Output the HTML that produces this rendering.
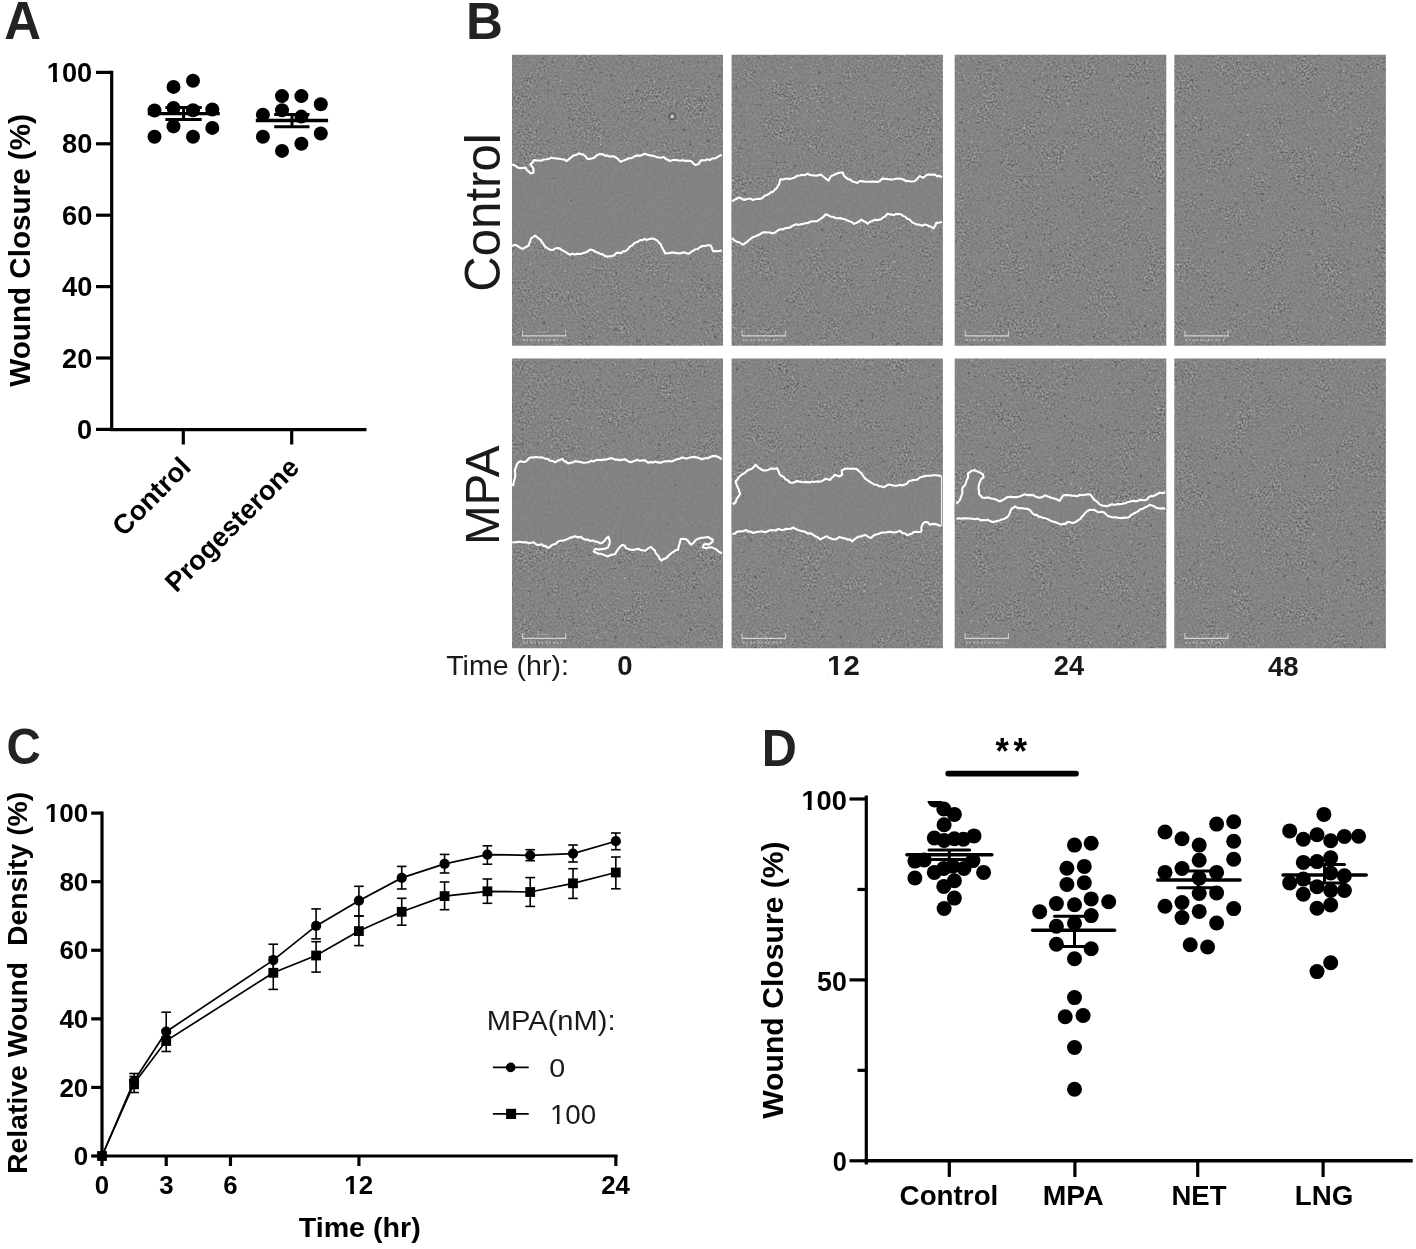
<!DOCTYPE html>
<html><head><meta charset="utf-8"><title>Figure</title>
<style>
html,body{margin:0;padding:0;background:#fff;}
body{width:1416px;height:1249px;overflow:hidden;}
svg{display:block;will-change:transform;font-family:"Liberation Sans", sans-serif;}
</style></head><body>
<svg width="1416" height="1249" viewBox="0 0 1416 1249">
<defs>
<filter id="tex" x="0" y="0" width="100%" height="100%" color-interpolation-filters="sRGB">
<feTurbulence type="fractalNoise" baseFrequency="0.5" numOctaves="3" seed="7" result="n1"/>
<feColorMatrix in="n1" type="matrix" values="0.18 0 0 0 0.426  0.18 0 0 0 0.426  0.18 0 0 0 0.426  0 0 0 0 1" result="lo"/>
<feColorMatrix in="n1" type="matrix" values="0.55 0 0 0 0.238  0.55 0 0 0 0.238  0.55 0 0 0 0.238  0 0 0 0 1" result="hirgb"/>
<feTurbulence type="fractalNoise" baseFrequency="0.035" numOctaves="2" seed="5" result="m"/>
<feColorMatrix in="m" type="matrix" values="0 0 0 0 0  0 0 0 0 0  0 0 0 0 0  3 0 0 0 -1.35" result="mask"/>
<feComposite in="hirgb" in2="mask" operator="in" result="hi"/>
<feTurbulence type="fractalNoise" baseFrequency="0.28" numOctaves="2" seed="11" result="n2"/>
<feColorMatrix in="n2" type="matrix" values="0 0 0 0 0.36  0 0 0 0 0.36  0 0 0 0 0.36  7 0 0 0 -4.85" result="spk"/>
<feTurbulence type="fractalNoise" baseFrequency="0.3" numOctaves="2" seed="23" result="n3"/>
<feColorMatrix in="n3" type="matrix" values="0 0 0 0 0.72  0 0 0 0 0.72  0 0 0 0 0.72  6 0 0 0 -4.4" result="lt"/>
<feMerge><feMergeNode in="lo"/><feMergeNode in="hi"/><feMergeNode in="spk"/><feMergeNode in="lt"/></feMerge>
</filter>
<filter id="smooth" x="0" y="0" width="100%" height="100%" color-interpolation-filters="sRGB">
<feTurbulence type="fractalNoise" baseFrequency="0.35" numOctaves="1" seed="3" result="a"/>
<feColorMatrix in="a" type="matrix" values="0.07 0 0 0 0.478  0.07 0 0 0 0.478  0.07 0 0 0 0.478  0 0 0 0 1" result="b"/>
<feTurbulence type="fractalNoise" baseFrequency="0.4" numOctaves="2" seed="31" result="c"/>
<feColorMatrix in="c" type="matrix" values="0 0 0 0 0.3  0 0 0 0 0.3  0 0 0 0 0.3  10 0 0 0 -7.9" result="d"/>
<feMerge><feMergeNode in="b"/><feMergeNode in="d"/></feMerge>
</filter>
<clipPath id="clip00"><rect x="512" y="54.7" width="211" height="291"/></clipPath>
<clipPath id="w00"><polygon points="510.0,164.6 512.2,164.6 515.1,165.5 517.5,167.4 520.6,168.3 523.4,167.7 525.6,167.9 527.0,170.2 528.4,171.3 530.6,173.4 533.4,172.7 533.5,169.5 533.1,168.1 530.3,164.1 532.8,162.4 534.0,160.1 537.1,160.5 539.4,160.5 541.6,160.6 543.8,159.5 546.6,159.2 549.0,158.8 551.3,157.6 553.5,158.2 556.0,158.4 558.7,158.7 561.8,159.3 564.2,159.5 566.8,161.0 569.2,159.0 570.9,157.7 573.0,155.7 576.6,154.7 578.9,153.3 581.6,154.5 583.4,154.4 585.3,156.2 587.1,158.6 589.6,159.1 591.7,158.4 594.4,157.7 595.9,156.0 598.3,154.6 600.4,154.1 602.6,154.3 605.6,155.9 607.1,155.4 609.5,156.5 612.5,156.4 614.3,156.5 617.2,158.3 619.3,160.4 620.6,161.8 623.8,160.4 626.1,159.5 628.6,158.2 631.6,158.2 634.6,156.3 636.9,155.4 639.9,155.9 642.0,155.0 644.9,153.8 648.3,155.0 651.4,155.6 653.9,155.9 657.1,157.3 661.1,157.7 663.7,157.1 666.4,159.4 667.8,159.7 669.9,161.0 673.7,159.7 676.6,159.9 679.6,160.8 682.9,160.2 685.7,161.1 688.0,160.6 691.4,161.2 693.2,163.2 695.3,165.0 698.7,164.0 700.2,161.4 701.7,160.1 704.4,160.5 707.7,159.2 709.8,160.1 711.9,158.5 714.6,158.4 716.3,157.9 719.4,155.8 721.9,155.1 725.0,155.1 725.0,250.4 721.9,250.4 718.0,251.3 715.8,251.0 712.8,251.1 712.0,248.1 710.4,245.2 707.7,245.3 705.1,246.0 702.2,246.0 700.3,247.0 697.7,249.0 695.3,249.2 693.8,250.4 691.4,251.7 689.1,253.6 687.3,253.6 684.8,252.4 682.5,252.6 680.1,253.4 677.0,253.2 674.1,252.6 672.1,252.6 669.0,253.1 665.2,253.5 664.1,250.9 663.1,249.2 661.3,245.9 660.6,243.9 659.1,242.8 657.4,240.7 654.1,238.8 651.5,238.6 649.3,239.0 646.4,239.9 644.5,238.9 642.5,240.1 640.2,240.1 637.6,241.9 636.0,242.3 634.4,243.2 632.1,245.5 630.7,246.1 629.1,247.6 627.2,249.8 625.4,251.3 623.1,251.3 621.1,253.1 618.9,252.7 616.4,252.9 614.0,255.4 611.8,256.0 609.0,256.3 607.4,256.6 604.7,255.9 602.5,254.0 601.3,254.4 598.4,252.8 595.9,252.1 593.6,250.4 590.6,249.5 588.3,250.9 586.4,252.2 584.1,252.6 582.0,253.6 580.0,254.0 577.1,253.8 575.0,254.5 572.2,253.7 569.8,254.8 567.4,253.2 564.2,251.4 561.8,250.0 559.5,248.2 556.3,248.1 554.3,249.2 552.3,250.0 549.5,249.5 547.2,248.2 545.1,246.7 543.0,243.4 541.8,241.8 540.8,239.9 539.6,239.2 537.6,237.8 535.2,235.5 531.2,238.3 530.2,241.0 529.6,242.7 528.6,245.6 527.0,246.5 524.5,247.9 522.9,248.7 520.6,248.1 518.2,246.3 515.8,244.8 512.2,245.7 510.0,245.7"/></clipPath>
<clipPath id="clip01"><rect x="731.6" y="54.7" width="211.3" height="291"/></clipPath>
<clipPath id="w01"><polygon points="729.6,201.3 732.2,201.3 734.4,199.9 736.7,198.7 738.9,197.5 741.2,198.4 743.2,199.6 744.7,199.9 747.0,199.1 748.7,198.7 751.0,198.8 752.6,199.9 754.9,199.3 756.8,199.0 759.8,198.9 761.9,198.3 763.3,197.1 764.9,195.6 767.2,194.9 769.3,193.6 771.0,192.1 772.9,191.9 775.1,189.4 776.3,188.6 777.8,186.2 778.9,184.6 779.8,181.6 780.3,179.1 783.0,179.5 786.2,178.5 788.5,178.9 791.5,178.6 794.9,177.4 797.4,175.7 799.9,175.5 802.0,174.7 804.7,175.3 807.6,173.6 810.1,175.1 812.9,175.3 815.7,175.8 818.0,175.4 820.7,174.5 822.9,176.3 825.4,178.3 828.6,180.7 829.9,177.8 831.2,176.1 833.8,175.1 835.8,174.0 837.4,173.2 840.0,172.8 842.6,172.2 843.9,175.8 846.0,177.6 847.8,179.1 849.9,179.4 852.1,181.3 854.6,181.9 857.2,183.0 860.0,181.0 863.1,181.4 866.2,181.8 868.5,181.7 871.2,181.6 874.1,181.6 877.5,181.9 879.8,181.1 882.2,178.6 885.5,178.9 888.8,179.2 891.2,179.6 893.5,179.3 896.3,178.7 898.6,178.7 901.1,178.8 903.7,179.7 905.9,181.2 907.5,180.8 910.5,181.5 914.5,181.2 915.8,180.3 917.4,178.7 919.3,176.2 920.8,176.6 923.3,177.7 926.1,175.3 928.6,174.4 931.3,174.7 935.0,174.5 937.4,176.5 939.2,175.8 941.9,177.2 944.9,177.2 944.9,222.0 941.9,222.0 938.7,222.7 936.3,222.9 935.2,225.8 933.3,228.3 930.9,226.5 929.2,226.2 926.5,224.9 924.7,224.5 922.2,225.8 919.3,224.6 916.9,224.5 914.4,223.4 911.9,222.1 909.5,219.5 907.1,218.7 905.4,216.9 902.9,215.9 901.1,214.2 898.9,214.1 895.8,214.1 893.7,215.0 890.4,214.4 887.5,213.7 884.9,216.4 882.9,217.7 881.0,219.2 877.8,220.1 874.8,219.8 872.3,221.1 869.7,222.0 867.6,223.8 866.2,222.4 864.2,221.4 861.4,219.7 859.0,221.5 856.7,222.8 854.0,223.9 851.5,222.0 849.4,221.3 846.9,220.2 844.4,219.1 842.3,218.7 840.0,218.0 838.3,218.2 835.4,218.0 832.8,216.8 830.7,216.8 828.0,215.0 825.7,214.3 824.1,216.1 822.2,217.7 819.6,219.5 817.2,221.1 814.2,221.3 810.4,221.6 808.4,222.9 806.2,223.1 803.6,223.8 800.9,224.2 798.2,224.9 796.2,224.2 793.2,225.4 790.7,227.0 788.9,227.9 785.8,228.0 783.2,229.3 781.0,229.2 778.3,230.1 775.1,232.5 772.6,233.4 770.1,232.5 767.2,232.5 764.9,232.2 762.5,232.5 760.1,234.2 757.2,235.5 755.5,236.4 753.1,237.1 750.9,238.6 749.1,240.0 746.6,242.3 745.4,243.0 742.9,244.6 741.1,243.6 738.7,242.0 736.5,241.7 734.0,240.1 732.2,237.9 729.6,237.9"/></clipPath>
<clipPath id="clip02"><rect x="954.7" y="54.7" width="211.6" height="291"/></clipPath>
<clipPath id="clip03"><rect x="1174.3" y="54.7" width="211.6" height="291"/></clipPath>
<clipPath id="clip10"><rect x="512" y="358.5" width="211" height="289.7"/></clipPath>
<clipPath id="w10"><polygon points="510.0,486.1 512.9,486.1 513.6,482.5 514.2,480.4 515.0,477.6 515.3,476.0 515.2,472.7 514.8,471.2 515.3,468.8 516.5,465.7 517.0,464.0 518.9,462.0 520.8,461.2 523.4,462.0 525.5,461.7 527.1,460.5 529.1,458.3 531.6,457.2 534.2,457.4 536.5,457.0 539.2,457.5 541.0,457.4 542.9,457.6 545.5,458.7 547.6,458.7 549.5,460.5 552.6,461.0 555.5,462.2 558.1,460.4 559.8,460.2 562.3,458.8 564.5,461.4 565.9,461.6 568.1,463.5 570.3,462.8 572.3,462.6 575.4,461.1 577.3,461.5 580.1,461.9 582.4,462.6 584.3,462.7 586.8,462.5 589.2,461.9 591.4,460.8 594.1,461.4 596.4,459.9 598.8,460.0 601.2,460.1 603.5,459.6 606.4,459.6 609.9,458.4 612.5,458.3 614.9,459.6 617.3,459.4 619.6,460.3 623.0,459.6 625.4,459.4 628.2,461.4 630.9,462.2 632.7,461.5 635.0,460.8 637.0,459.8 639.5,460.9 642.0,460.3 645.0,460.4 648.3,462.8 650.3,462.0 653.0,462.6 655.5,461.6 657.2,462.4 661.1,462.6 664.1,461.4 665.9,461.5 669.0,461.0 671.2,461.5 673.0,461.1 675.4,459.7 677.4,459.1 679.9,458.7 681.9,457.5 684.9,458.2 686.7,458.5 689.0,457.7 692.3,456.9 695.2,457.1 698.2,457.7 699.6,458.2 701.9,459.2 705.3,458.3 708.2,458.3 710.2,457.0 712.6,456.1 714.8,456.0 717.6,456.6 720.0,458.2 721.9,459.1 725.0,459.1 725.0,553.6 721.9,553.6 720.3,552.4 718.1,551.3 716.3,549.4 714.2,548.4 711.7,547.4 708.6,547.5 706.1,548.2 702.7,547.3 703.8,544.6 705.8,544.0 708.8,544.6 712.5,541.8 712.7,539.5 710.7,538.7 708.5,537.1 705.9,537.3 703.3,537.8 701.1,537.8 698.4,538.7 695.8,539.9 693.5,542.8 691.1,544.6 689.2,542.7 687.6,540.3 686.2,539.4 684.1,539.0 681.0,538.9 680.1,541.1 679.6,543.7 678.6,546.5 678.1,549.9 675.7,550.2 673.3,552.0 671.3,553.2 669.4,554.8 667.2,557.2 665.4,558.6 663.5,558.8 661.6,560.7 660.0,559.5 658.9,556.9 657.0,554.5 655.6,553.0 654.7,550.3 653.0,549.1 651.2,547.1 649.6,547.6 647.2,549.2 645.5,550.8 643.6,550.5 640.5,550.0 638.7,548.9 636.1,549.3 633.4,549.9 630.2,549.8 628.3,548.9 626.1,548.3 624.7,545.8 622.4,544.7 619.9,546.9 617.4,550.2 615.9,552.6 615.0,554.2 611.2,554.8 607.9,556.4 605.3,555.6 603.3,554.6 600.4,553.7 598.4,553.8 596.4,552.8 593.7,551.5 595.4,548.7 598.8,549.6 601.6,549.1 605.5,548.6 608.2,547.2 609.5,543.8 609.9,541.6 609.0,538.9 608.5,536.7 606.3,538.4 604.1,541.3 601.6,543.2 599.5,543.1 597.5,541.7 595.3,541.6 592.8,540.5 590.6,541.0 587.4,539.5 585.6,539.8 583.0,538.8 580.9,536.9 578.4,537.4 575.1,536.3 572.8,537.1 570.2,537.6 568.4,538.6 566.9,539.3 564.5,540.2 562.6,540.7 560.5,540.6 557.8,541.7 556.1,543.7 554.2,544.3 552.2,544.9 549.9,546.9 547.9,548.0 545.5,545.9 543.5,546.0 541.8,544.3 539.1,545.0 536.9,544.6 535.3,543.9 533.7,542.2 531.4,542.7 529.0,543.2 526.3,542.2 523.3,542.4 520.9,542.0 518.3,541.8 516.7,542.3 514.1,542.3 512.2,542.5 510.0,542.5"/></clipPath>
<clipPath id="clip11"><rect x="731.6" y="358.5" width="211.3" height="289.7"/></clipPath>
<clipPath id="w11"><polygon points="729.6,504.4 732.9,504.4 735.7,502.1 736.6,499.0 738.7,496.1 740.2,494.0 739.2,491.6 738.7,489.2 737.6,487.3 736.7,484.9 735.5,481.4 737.2,479.9 738.9,477.0 741.0,475.2 743.1,473.9 744.8,472.9 747.0,470.8 749.6,469.6 751.9,468.7 753.4,467.4 755.6,464.7 758.2,467.4 759.6,468.3 761.5,469.5 762.8,470.3 765.4,470.6 768.0,469.9 770.7,468.6 773.0,468.6 775.1,468.8 777.3,468.3 778.5,471.1 779.5,474.2 781.3,475.8 783.9,477.1 785.6,479.4 788.1,480.5 789.8,482.5 793.4,482.7 796.6,481.1 799.4,481.6 802.0,482.0 804.4,482.3 806.9,482.0 809.3,482.4 811.7,481.5 813.6,482.0 816.5,481.5 818.9,481.6 821.8,481.2 823.5,480.2 825.5,478.7 830.2,479.9 831.5,478.0 833.1,476.8 835.0,474.6 837.3,475.8 839.3,476.5 842.3,474.6 841.8,473.3 841.7,470.5 844.6,468.9 847.1,468.5 849.7,468.7 851.8,468.6 854.3,468.7 856.7,469.1 858.7,470.9 859.7,471.8 861.8,473.8 863.5,476.4 865.2,478.7 867.1,480.0 869.3,481.4 872.4,483.4 874.3,484.6 877.2,484.8 879.0,486.1 881.8,486.5 884.2,487.2 886.5,485.7 888.8,484.4 891.7,485.1 894.7,485.7 897.8,485.7 899.6,484.7 901.8,485.4 904.2,484.9 907.2,483.5 908.9,481.1 912.0,480.4 914.0,480.0 917.0,479.7 919.7,477.6 922.0,476.7 924.9,476.1 927.3,475.8 930.2,475.7 933.2,475.2 936.6,475.2 939.0,475.6 941.1,476.2 944.9,476.2 944.9,525.8 941.1,525.8 938.9,525.5 936.4,524.1 933.0,523.9 929.6,524.6 927.9,522.3 924.9,522.0 923.0,523.3 922.1,525.5 921.3,527.6 921.5,530.5 920.9,531.8 917.6,532.1 914.0,531.8 911.9,533.6 909.7,534.3 907.4,535.3 905.1,533.5 902.5,533.1 900.0,530.7 896.6,532.1 893.4,532.5 891.2,531.9 888.5,531.9 885.8,532.5 882.5,532.5 880.5,533.0 877.4,534.2 875.7,534.5 873.4,535.7 871.2,538.0 868.7,537.3 866.5,535.5 864.8,535.0 861.3,536.2 858.6,536.6 856.3,538.0 854.0,539.7 852.2,541.4 849.9,539.4 848.1,539.7 846.0,538.7 842.9,537.9 839.2,537.0 836.4,539.2 833.0,539.3 831.4,538.6 828.8,537.7 827.1,536.3 824.7,537.1 822.2,538.4 820.3,539.5 817.7,537.2 815.1,536.2 813.6,535.1 810.8,533.2 807.6,533.4 804.3,531.5 801.7,531.1 799.9,530.6 797.9,529.9 795.1,528.6 793.3,527.5 790.6,528.8 788.9,529.0 785.9,528.7 783.9,529.7 781.5,530.0 778.4,528.9 775.6,530.5 772.8,530.3 770.4,530.1 767.7,531.3 764.7,532.3 761.9,531.3 759.1,531.7 756.6,531.9 753.2,533.0 751.3,531.9 748.1,531.4 745.9,530.0 742.9,531.4 739.2,531.4 736.9,531.8 734.9,533.7 732.2,533.8 729.6,533.8"/></clipPath>
<clipPath id="clip12"><rect x="954.7" y="358.5" width="211.6" height="289.7"/></clipPath>
<clipPath id="w12"><polygon points="952.7,503.6 956.4,503.6 957.8,502.4 959.6,500.4 960.6,498.2 961.7,495.0 962.4,493.0 962.3,490.4 962.5,487.3 964.3,486.0 965.7,483.5 966.7,480.0 967.8,478.1 968.2,475.7 967.9,473.6 971.8,470.7 974.5,470.3 977.8,471.6 980.5,472.9 983.0,474.4 983.6,477.4 981.4,478.9 979.9,481.8 979.0,484.6 978.5,488.1 979.0,491.0 979.0,493.7 982.2,497.5 985.0,498.0 988.4,497.4 991.2,498.5 993.4,498.8 995.9,499.4 999.5,501.4 1001.4,500.7 1004.0,499.4 1006.8,497.4 1010.1,496.7 1013.4,497.1 1016.6,497.1 1019.7,496.4 1021.8,495.6 1024.7,494.3 1027.2,495.1 1030.0,494.9 1033.0,495.1 1036.0,496.7 1039.1,497.7 1042.2,497.1 1044.9,495.3 1048.6,496.8 1051.8,497.9 1054.3,498.6 1057.0,499.4 1059.5,500.8 1061.2,498.5 1063.0,495.6 1065.6,495.0 1069.1,495.3 1071.6,495.6 1074.3,495.8 1077.3,496.2 1080.2,494.8 1082.3,495.2 1084.9,494.8 1087.6,494.4 1090.3,494.5 1092.5,497.4 1094.4,500.1 1095.9,500.9 1097.9,502.5 1099.6,504.4 1102.2,505.5 1104.8,506.0 1107.7,506.1 1110.1,505.0 1112.0,504.2 1114.7,505.0 1117.5,503.9 1120.1,504.1 1122.6,503.7 1125.5,503.1 1127.9,502.1 1130.4,501.4 1132.8,500.7 1135.1,501.3 1137.3,501.1 1140.3,499.8 1143.2,500.2 1145.7,500.1 1147.4,499.2 1148.4,497.2 1151.0,496.1 1153.1,496.2 1155.5,495.0 1157.7,493.8 1159.6,492.6 1162.2,493.2 1165.3,492.4 1168.3,492.4 1168.3,509.1 1165.3,509.1 1163.3,508.1 1160.5,508.6 1158.6,508.3 1156.8,508.2 1154.2,506.3 1152.2,505.6 1149.9,504.6 1147.2,506.5 1145.2,507.3 1142.6,508.9 1140.4,509.2 1138.3,511.1 1135.6,512.7 1133.8,513.5 1131.3,515.0 1129.5,516.6 1127.6,517.8 1124.8,517.5 1122.0,518.1 1119.1,518.0 1116.4,517.2 1114.6,517.4 1111.9,517.2 1108.8,516.3 1106.9,515.4 1104.5,512.6 1101.3,511.8 1098.8,512.4 1096.3,511.2 1094.4,509.9 1091.8,510.0 1089.6,509.8 1087.8,510.7 1085.0,513.0 1083.5,515.3 1082.1,516.3 1080.5,518.9 1077.8,520.4 1076.1,521.8 1073.7,522.9 1070.9,522.6 1067.8,521.8 1065.5,523.9 1063.3,523.7 1061.2,524.6 1058.8,523.6 1055.7,522.3 1053.7,521.8 1051.1,520.9 1048.2,519.4 1045.1,518.1 1043.6,518.3 1040.9,516.8 1038.7,516.6 1036.7,514.9 1034.5,514.9 1032.4,513.2 1030.3,510.4 1028.0,508.9 1024.9,508.8 1021.4,508.1 1018.0,508.2 1015.2,506.5 1011.8,508.6 1010.5,510.7 1009.8,513.2 1008.0,516.4 1005.5,518.3 1003.2,519.2 1000.9,519.7 999.7,520.5 996.6,521.1 994.0,522.1 991.0,521.6 988.2,519.8 985.6,520.3 983.1,520.1 980.2,520.2 977.7,518.5 975.2,519.3 972.7,518.8 969.0,518.5 965.7,518.3 963.5,518.4 961.0,518.8 959.0,518.2 956.4,518.7 952.7,518.7"/></clipPath>
<clipPath id="clip13"><rect x="1174.3" y="358.5" width="211.6" height="289.7"/></clipPath>
<clipPath id="clipD"><rect x="860" y="801" width="560" height="400"/></clipPath>
</defs>
<rect width="1416" height="1249" fill="#fff"/>
<text x="4.33" y="39.2" font-size="52.8" font-weight="bold" fill="#232323" textLength="36.76" lengthAdjust="spacingAndGlyphs">A</text>
<line x1="111.7" y1="70.8" x2="111.7" y2="431" stroke="#000" stroke-width="3.2" stroke-linecap="butt"/>
<line x1="110.1" y1="429.7" x2="366.5" y2="429.7" stroke="#000" stroke-width="3.2" stroke-linecap="butt"/>
<line x1="96" y1="429.4" x2="111.7" y2="429.4" stroke="#000" stroke-width="3.2" stroke-linecap="butt"/>
<text x="77.09" y="438.95" font-size="27.2" font-weight="bold" fill="#000" textLength="15.13" lengthAdjust="spacingAndGlyphs">0</text>
<line x1="96" y1="358" x2="111.7" y2="358" stroke="#000" stroke-width="3.2" stroke-linecap="butt"/>
<text x="62" y="367.55" font-size="27.2" font-weight="bold" fill="#000" textLength="30.26" lengthAdjust="spacingAndGlyphs">20</text>
<line x1="96" y1="286.6" x2="111.7" y2="286.6" stroke="#000" stroke-width="3.2" stroke-linecap="butt"/>
<text x="62" y="296.15" font-size="27.2" font-weight="bold" fill="#000" textLength="30.26" lengthAdjust="spacingAndGlyphs">40</text>
<line x1="96" y1="215.2" x2="111.7" y2="215.2" stroke="#000" stroke-width="3.2" stroke-linecap="butt"/>
<text x="62" y="224.75" font-size="27.2" font-weight="bold" fill="#000" textLength="30.26" lengthAdjust="spacingAndGlyphs">60</text>
<line x1="96" y1="143.8" x2="111.7" y2="143.8" stroke="#000" stroke-width="3.2" stroke-linecap="butt"/>
<text x="62" y="153.35" font-size="27.2" font-weight="bold" fill="#000" textLength="30.26" lengthAdjust="spacingAndGlyphs">80</text>
<line x1="96" y1="72.4" x2="111.7" y2="72.4" stroke="#000" stroke-width="3.2" stroke-linecap="butt"/>
<text x="46.83" y="81.95" font-size="27.2" font-weight="bold" fill="#000" textLength="45.38" lengthAdjust="spacingAndGlyphs">100</text><rect x="48.06" y="78.28" width="5" height="4.76" fill="#fff"/><rect x="57.03" y="78.28" width="4.49" height="4.76" fill="#fff"/>
<line x1="183.3" y1="429.5" x2="183.3" y2="444.5" stroke="#000" stroke-width="3.2" stroke-linecap="butt"/>
<line x1="291.7" y1="429.5" x2="291.7" y2="444.5" stroke="#000" stroke-width="3.2" stroke-linecap="butt"/>
<text transform="translate(192.3,468.6) rotate(-45)" text-anchor="end" font-size="27.4" font-weight="bold">Control</text>
<text transform="translate(300.8,469.1) rotate(-45)" text-anchor="end" font-size="27.3" font-weight="bold">Progesterone</text>
<text transform="translate(29.59,386.67) rotate(-90)" x="0" y="0" font-size="29.92" font-weight="bold" fill="#000" textLength="272.58" lengthAdjust="spacingAndGlyphs">Wound Closure (%)</text>
<circle cx="173.5" cy="86.9" r="7" fill="#000"/>
<circle cx="193" cy="80.8" r="7" fill="#000"/>
<circle cx="154.5" cy="110.5" r="7" fill="#000"/>
<circle cx="173.5" cy="108" r="7" fill="#000"/>
<circle cx="193" cy="110.2" r="7" fill="#000"/>
<circle cx="212.3" cy="109.5" r="7" fill="#000"/>
<circle cx="173.5" cy="126.4" r="7" fill="#000"/>
<circle cx="212.3" cy="127.9" r="7" fill="#000"/>
<circle cx="154.5" cy="136.8" r="7" fill="#000"/>
<circle cx="193" cy="136.8" r="7" fill="#000"/>
<circle cx="282" cy="96.1" r="7" fill="#000"/>
<circle cx="301.4" cy="96.1" r="7" fill="#000"/>
<circle cx="320.8" cy="104.3" r="7" fill="#000"/>
<circle cx="262.9" cy="114.7" r="7" fill="#000"/>
<circle cx="282" cy="110.2" r="7" fill="#000"/>
<circle cx="301.4" cy="116.6" r="7" fill="#000"/>
<circle cx="262.9" cy="136.8" r="7" fill="#000"/>
<circle cx="320.8" cy="133.5" r="7" fill="#000"/>
<circle cx="301.4" cy="143.8" r="7" fill="#000"/>
<circle cx="282" cy="150.9" r="7" fill="#000"/>
<line x1="147.8" y1="113.7" x2="219.8" y2="113.7" stroke="#000" stroke-width="3.3" stroke-linecap="butt"/><line x1="165.4" y1="107.4" x2="201.7" y2="107.4" stroke="#000" stroke-width="3" stroke-linecap="butt"/><line x1="165.4" y1="119.4" x2="201.7" y2="119.4" stroke="#000" stroke-width="3" stroke-linecap="butt"/><line x1="183.6" y1="107.4" x2="183.6" y2="119.4" stroke="#000" stroke-width="3" stroke-linecap="butt"/>
<line x1="255.8" y1="120.5" x2="328.1" y2="120.5" stroke="#000" stroke-width="3.3" stroke-linecap="butt"/><line x1="274.2" y1="114.4" x2="309.5" y2="114.4" stroke="#000" stroke-width="3" stroke-linecap="butt"/><line x1="274.2" y1="126.7" x2="309.5" y2="126.7" stroke="#000" stroke-width="3" stroke-linecap="butt"/><line x1="292" y1="114.4" x2="292" y2="126.7" stroke="#000" stroke-width="3" stroke-linecap="butt"/>
<text x="465.95" y="38.9" font-size="51.64" font-weight="bold" fill="#232323" textLength="36.94" lengthAdjust="spacingAndGlyphs">B</text>
<g clip-path="url(#clip00)">
<rect x="512" y="54.7" width="211" height="291" fill="#838383" filter="url(#tex)"/>
<rect x="512" y="54.7" width="211" height="291" fill="#828282" filter="url(#smooth)" clip-path="url(#w00)"/>
<polyline points="512.2,164.6 515.1,165.5 517.5,167.4 520.6,168.3 523.4,167.7 525.6,167.9 527.0,170.2 528.4,171.3 530.6,173.4 533.4,172.7 533.5,169.5 533.1,168.1 530.3,164.1 532.8,162.4 534.0,160.1 537.1,160.5 539.4,160.5 541.6,160.6 543.8,159.5 546.6,159.2 549.0,158.8 551.3,157.6 553.5,158.2 556.0,158.4 558.7,158.7 561.8,159.3 564.2,159.5 566.8,161.0 569.2,159.0 570.9,157.7 573.0,155.7 576.6,154.7 578.9,153.3 581.6,154.5 583.4,154.4 585.3,156.2 587.1,158.6 589.6,159.1 591.7,158.4 594.4,157.7 595.9,156.0 598.3,154.6 600.4,154.1 602.6,154.3 605.6,155.9 607.1,155.4 609.5,156.5 612.5,156.4 614.3,156.5 617.2,158.3 619.3,160.4 620.6,161.8 623.8,160.4 626.1,159.5 628.6,158.2 631.6,158.2 634.6,156.3 636.9,155.4 639.9,155.9 642.0,155.0 644.9,153.8 648.3,155.0 651.4,155.6 653.9,155.9 657.1,157.3 661.1,157.7 663.7,157.1 666.4,159.4 667.8,159.7 669.9,161.0 673.7,159.7 676.6,159.9 679.6,160.8 682.9,160.2 685.7,161.1 688.0,160.6 691.4,161.2 693.2,163.2 695.3,165.0 698.7,164.0 700.2,161.4 701.7,160.1 704.4,160.5 707.7,159.2 709.8,160.1 711.9,158.5 714.6,158.4 716.3,157.9 719.4,155.8 721.9,155.1" fill="none" stroke="#fff" stroke-width="2.1" stroke-linejoin="round"/>
<polyline points="512.2,245.7 515.8,244.8 518.2,246.3 520.6,248.1 522.9,248.7 524.5,247.9 527.0,246.5 528.6,245.6 529.6,242.7 530.2,241.0 531.2,238.3 535.2,235.5 537.6,237.8 539.6,239.2 540.8,239.9 541.8,241.8 543.0,243.4 545.1,246.7 547.2,248.2 549.5,249.5 552.3,250.0 554.3,249.2 556.3,248.1 559.5,248.2 561.8,250.0 564.2,251.4 567.4,253.2 569.8,254.8 572.2,253.7 575.0,254.5 577.1,253.8 580.0,254.0 582.0,253.6 584.1,252.6 586.4,252.2 588.3,250.9 590.6,249.5 593.6,250.4 595.9,252.1 598.4,252.8 601.3,254.4 602.5,254.0 604.7,255.9 607.4,256.6 609.0,256.3 611.8,256.0 614.0,255.4 616.4,252.9 618.9,252.7 621.1,253.1 623.1,251.3 625.4,251.3 627.2,249.8 629.1,247.6 630.7,246.1 632.1,245.5 634.4,243.2 636.0,242.3 637.6,241.9 640.2,240.1 642.5,240.1 644.5,238.9 646.4,239.9 649.3,239.0 651.5,238.6 654.1,238.8 657.4,240.7 659.1,242.8 660.6,243.9 661.3,245.9 663.1,249.2 664.1,250.9 665.2,253.5 669.0,253.1 672.1,252.6 674.1,252.6 677.0,253.2 680.1,253.4 682.5,252.6 684.8,252.4 687.3,253.6 689.1,253.6 691.4,251.7 693.8,250.4 695.3,249.2 697.7,249.0 700.3,247.0 702.2,246.0 705.1,246.0 707.7,245.3 710.4,245.2 712.0,248.1 712.8,251.1 715.8,251.0 718.0,251.3 721.9,250.4" fill="none" stroke="#fff" stroke-width="2.1" stroke-linejoin="round"/>
<line x1="522" y1="335.9" x2="566.3" y2="335.9" stroke="#d4d4d4" stroke-width="1.3" stroke-linecap="butt"/>
<line x1="522.6" y1="330.5" x2="522.6" y2="335.9" stroke="#cfcfcf" stroke-width="1" stroke-linecap="butt"/>
<line x1="565.7" y1="330.5" x2="565.7" y2="335.9" stroke="#cfcfcf" stroke-width="1" stroke-linecap="butt"/>
<line x1="523" y1="340.1" x2="562" y2="340.1" stroke="#b4b4b4" stroke-width="1.6" stroke-dasharray="2.2 1.3 1.5 2.5"/>
<line x1="538" y1="331.9" x2="549" y2="331.9" stroke="#a8a8a8" stroke-width="1.4" stroke-dasharray="1.6 1"/>
</g>
<g clip-path="url(#clip01)">
<rect x="731.6" y="54.7" width="211.3" height="291" fill="#838383" filter="url(#tex)"/>
<rect x="731.6" y="54.7" width="211.3" height="291" fill="#828282" filter="url(#smooth)" clip-path="url(#w01)"/>
<polyline points="732.2,201.3 734.4,199.9 736.7,198.7 738.9,197.5 741.2,198.4 743.2,199.6 744.7,199.9 747.0,199.1 748.7,198.7 751.0,198.8 752.6,199.9 754.9,199.3 756.8,199.0 759.8,198.9 761.9,198.3 763.3,197.1 764.9,195.6 767.2,194.9 769.3,193.6 771.0,192.1 772.9,191.9 775.1,189.4 776.3,188.6 777.8,186.2 778.9,184.6 779.8,181.6 780.3,179.1 783.0,179.5 786.2,178.5 788.5,178.9 791.5,178.6 794.9,177.4 797.4,175.7 799.9,175.5 802.0,174.7 804.7,175.3 807.6,173.6 810.1,175.1 812.9,175.3 815.7,175.8 818.0,175.4 820.7,174.5 822.9,176.3 825.4,178.3 828.6,180.7 829.9,177.8 831.2,176.1 833.8,175.1 835.8,174.0 837.4,173.2 840.0,172.8 842.6,172.2 843.9,175.8 846.0,177.6 847.8,179.1 849.9,179.4 852.1,181.3 854.6,181.9 857.2,183.0 860.0,181.0 863.1,181.4 866.2,181.8 868.5,181.7 871.2,181.6 874.1,181.6 877.5,181.9 879.8,181.1 882.2,178.6 885.5,178.9 888.8,179.2 891.2,179.6 893.5,179.3 896.3,178.7 898.6,178.7 901.1,178.8 903.7,179.7 905.9,181.2 907.5,180.8 910.5,181.5 914.5,181.2 915.8,180.3 917.4,178.7 919.3,176.2 920.8,176.6 923.3,177.7 926.1,175.3 928.6,174.4 931.3,174.7 935.0,174.5 937.4,176.5 939.2,175.8 941.9,177.2" fill="none" stroke="#fff" stroke-width="2.1" stroke-linejoin="round"/>
<polyline points="732.2,237.9 734.0,240.1 736.5,241.7 738.7,242.0 741.1,243.6 742.9,244.6 745.4,243.0 746.6,242.3 749.1,240.0 750.9,238.6 753.1,237.1 755.5,236.4 757.2,235.5 760.1,234.2 762.5,232.5 764.9,232.2 767.2,232.5 770.1,232.5 772.6,233.4 775.1,232.5 778.3,230.1 781.0,229.2 783.2,229.3 785.8,228.0 788.9,227.9 790.7,227.0 793.2,225.4 796.2,224.2 798.2,224.9 800.9,224.2 803.6,223.8 806.2,223.1 808.4,222.9 810.4,221.6 814.2,221.3 817.2,221.1 819.6,219.5 822.2,217.7 824.1,216.1 825.7,214.3 828.0,215.0 830.7,216.8 832.8,216.8 835.4,218.0 838.3,218.2 840.0,218.0 842.3,218.7 844.4,219.1 846.9,220.2 849.4,221.3 851.5,222.0 854.0,223.9 856.7,222.8 859.0,221.5 861.4,219.7 864.2,221.4 866.2,222.4 867.6,223.8 869.7,222.0 872.3,221.1 874.8,219.8 877.8,220.1 881.0,219.2 882.9,217.7 884.9,216.4 887.5,213.7 890.4,214.4 893.7,215.0 895.8,214.1 898.9,214.1 901.1,214.2 902.9,215.9 905.4,216.9 907.1,218.7 909.5,219.5 911.9,222.1 914.4,223.4 916.9,224.5 919.3,224.6 922.2,225.8 924.7,224.5 926.5,224.9 929.2,226.2 930.9,226.5 933.3,228.3 935.2,225.8 936.3,222.9 938.7,222.7 941.9,222.0" fill="none" stroke="#fff" stroke-width="2.1" stroke-linejoin="round"/>
<line x1="741.6" y1="335.9" x2="785.9" y2="335.9" stroke="#d4d4d4" stroke-width="1.3" stroke-linecap="butt"/>
<line x1="742.2" y1="330.5" x2="742.2" y2="335.9" stroke="#cfcfcf" stroke-width="1" stroke-linecap="butt"/>
<line x1="785.3" y1="330.5" x2="785.3" y2="335.9" stroke="#cfcfcf" stroke-width="1" stroke-linecap="butt"/>
<line x1="742.6" y1="340.1" x2="781.6" y2="340.1" stroke="#b4b4b4" stroke-width="1.6" stroke-dasharray="2.2 1.3 1.5 2.5"/>
<line x1="757.6" y1="331.9" x2="768.6" y2="331.9" stroke="#a8a8a8" stroke-width="1.4" stroke-dasharray="1.6 1"/>
</g>
<g clip-path="url(#clip02)">
<rect x="954.7" y="54.7" width="211.6" height="291" fill="#838383" filter="url(#tex)"/>
<line x1="964.7" y1="335.9" x2="1009" y2="335.9" stroke="#d4d4d4" stroke-width="1.3" stroke-linecap="butt"/>
<line x1="965.3" y1="330.5" x2="965.3" y2="335.9" stroke="#cfcfcf" stroke-width="1" stroke-linecap="butt"/>
<line x1="1008.4" y1="330.5" x2="1008.4" y2="335.9" stroke="#cfcfcf" stroke-width="1" stroke-linecap="butt"/>
<line x1="965.7" y1="340.1" x2="1004.7" y2="340.1" stroke="#b4b4b4" stroke-width="1.6" stroke-dasharray="2.2 1.3 1.5 2.5"/>
<line x1="980.7" y1="331.9" x2="991.7" y2="331.9" stroke="#a8a8a8" stroke-width="1.4" stroke-dasharray="1.6 1"/>
</g>
<g clip-path="url(#clip03)">
<rect x="1174.3" y="54.7" width="211.6" height="291" fill="#838383" filter="url(#tex)"/>
<line x1="1184.3" y1="335.9" x2="1228.6" y2="335.9" stroke="#d4d4d4" stroke-width="1.3" stroke-linecap="butt"/>
<line x1="1184.9" y1="330.5" x2="1184.9" y2="335.9" stroke="#cfcfcf" stroke-width="1" stroke-linecap="butt"/>
<line x1="1228" y1="330.5" x2="1228" y2="335.9" stroke="#cfcfcf" stroke-width="1" stroke-linecap="butt"/>
<line x1="1185.3" y1="340.1" x2="1224.3" y2="340.1" stroke="#b4b4b4" stroke-width="1.6" stroke-dasharray="2.2 1.3 1.5 2.5"/>
<line x1="1200.3" y1="331.9" x2="1211.3" y2="331.9" stroke="#a8a8a8" stroke-width="1.4" stroke-dasharray="1.6 1"/>
</g>
<g clip-path="url(#clip10)">
<rect x="512" y="358.5" width="211" height="289.7" fill="#838383" filter="url(#tex)"/>
<rect x="512" y="358.5" width="211" height="289.7" fill="#828282" filter="url(#smooth)" clip-path="url(#w10)"/>
<polyline points="512.9,486.1 513.6,482.5 514.2,480.4 515.0,477.6 515.3,476.0 515.2,472.7 514.8,471.2 515.3,468.8 516.5,465.7 517.0,464.0 518.9,462.0 520.8,461.2 523.4,462.0 525.5,461.7 527.1,460.5 529.1,458.3 531.6,457.2 534.2,457.4 536.5,457.0 539.2,457.5 541.0,457.4 542.9,457.6 545.5,458.7 547.6,458.7 549.5,460.5 552.6,461.0 555.5,462.2 558.1,460.4 559.8,460.2 562.3,458.8 564.5,461.4 565.9,461.6 568.1,463.5 570.3,462.8 572.3,462.6 575.4,461.1 577.3,461.5 580.1,461.9 582.4,462.6 584.3,462.7 586.8,462.5 589.2,461.9 591.4,460.8 594.1,461.4 596.4,459.9 598.8,460.0 601.2,460.1 603.5,459.6 606.4,459.6 609.9,458.4 612.5,458.3 614.9,459.6 617.3,459.4 619.6,460.3 623.0,459.6 625.4,459.4 628.2,461.4 630.9,462.2 632.7,461.5 635.0,460.8 637.0,459.8 639.5,460.9 642.0,460.3 645.0,460.4 648.3,462.8 650.3,462.0 653.0,462.6 655.5,461.6 657.2,462.4 661.1,462.6 664.1,461.4 665.9,461.5 669.0,461.0 671.2,461.5 673.0,461.1 675.4,459.7 677.4,459.1 679.9,458.7 681.9,457.5 684.9,458.2 686.7,458.5 689.0,457.7 692.3,456.9 695.2,457.1 698.2,457.7 699.6,458.2 701.9,459.2 705.3,458.3 708.2,458.3 710.2,457.0 712.6,456.1 714.8,456.0 717.6,456.6 720.0,458.2 721.9,459.1" fill="none" stroke="#fff" stroke-width="2.1" stroke-linejoin="round"/>
<polyline points="512.2,542.5 514.1,542.3 516.7,542.3 518.3,541.8 520.9,542.0 523.3,542.4 526.3,542.2 529.0,543.2 531.4,542.7 533.7,542.2 535.3,543.9 536.9,544.6 539.1,545.0 541.8,544.3 543.5,546.0 545.5,545.9 547.9,548.0 549.9,546.9 552.2,544.9 554.2,544.3 556.1,543.7 557.8,541.7 560.5,540.6 562.6,540.7 564.5,540.2 566.9,539.3 568.4,538.6 570.2,537.6 572.8,537.1 575.1,536.3 578.4,537.4 580.9,536.9 583.0,538.8 585.6,539.8 587.4,539.5 590.6,541.0 592.8,540.5 595.3,541.6 597.5,541.7 599.5,543.1 601.6,543.2 604.1,541.3 606.3,538.4 608.5,536.7 609.0,538.9 609.9,541.6 609.5,543.8 608.2,547.2 605.5,548.6 601.6,549.1 598.8,549.6 595.4,548.7 593.7,551.5 596.4,552.8 598.4,553.8 600.4,553.7 603.3,554.6 605.3,555.6 607.9,556.4 611.2,554.8 615.0,554.2 615.9,552.6 617.4,550.2 619.9,546.9 622.4,544.7 624.7,545.8 626.1,548.3 628.3,548.9 630.2,549.8 633.4,549.9 636.1,549.3 638.7,548.9 640.5,550.0 643.6,550.5 645.5,550.8 647.2,549.2 649.6,547.6 651.2,547.1 653.0,549.1 654.7,550.3 655.6,553.0 657.0,554.5 658.9,556.9 660.0,559.5 661.6,560.7 663.5,558.8 665.4,558.6 667.2,557.2 669.4,554.8 671.3,553.2 673.3,552.0 675.7,550.2 678.1,549.9 678.6,546.5 679.6,543.7 680.1,541.1 681.0,538.9 684.1,539.0 686.2,539.4 687.6,540.3 689.2,542.7 691.1,544.6 693.5,542.8 695.8,539.9 698.4,538.7 701.1,537.8 703.3,537.8 705.9,537.3 708.5,537.1 710.7,538.7 712.7,539.5 712.5,541.8 708.8,544.6 705.8,544.0 703.8,544.6 702.7,547.3 706.1,548.2 708.6,547.5 711.7,547.4 714.2,548.4 716.3,549.4 718.1,551.3 720.3,552.4 721.9,553.6" fill="none" stroke="#fff" stroke-width="2.1" stroke-linejoin="round"/>
<line x1="522" y1="638.4" x2="566.3" y2="638.4" stroke="#d4d4d4" stroke-width="1.3" stroke-linecap="butt"/>
<line x1="522.6" y1="633" x2="522.6" y2="638.4" stroke="#cfcfcf" stroke-width="1" stroke-linecap="butt"/>
<line x1="565.7" y1="633" x2="565.7" y2="638.4" stroke="#cfcfcf" stroke-width="1" stroke-linecap="butt"/>
<line x1="523" y1="642.6" x2="562" y2="642.6" stroke="#b4b4b4" stroke-width="1.6" stroke-dasharray="2.2 1.3 1.5 2.5"/>
<line x1="538" y1="634.4" x2="549" y2="634.4" stroke="#a8a8a8" stroke-width="1.4" stroke-dasharray="1.6 1"/>
</g>
<g clip-path="url(#clip11)">
<rect x="731.6" y="358.5" width="211.3" height="289.7" fill="#838383" filter="url(#tex)"/>
<rect x="731.6" y="358.5" width="211.3" height="289.7" fill="#828282" filter="url(#smooth)" clip-path="url(#w11)"/>
<polyline points="732.9,504.4 735.7,502.1 736.6,499.0 738.7,496.1 740.2,494.0 739.2,491.6 738.7,489.2 737.6,487.3 736.7,484.9 735.5,481.4 737.2,479.9 738.9,477.0 741.0,475.2 743.1,473.9 744.8,472.9 747.0,470.8 749.6,469.6 751.9,468.7 753.4,467.4 755.6,464.7 758.2,467.4 759.6,468.3 761.5,469.5 762.8,470.3 765.4,470.6 768.0,469.9 770.7,468.6 773.0,468.6 775.1,468.8 777.3,468.3 778.5,471.1 779.5,474.2 781.3,475.8 783.9,477.1 785.6,479.4 788.1,480.5 789.8,482.5 793.4,482.7 796.6,481.1 799.4,481.6 802.0,482.0 804.4,482.3 806.9,482.0 809.3,482.4 811.7,481.5 813.6,482.0 816.5,481.5 818.9,481.6 821.8,481.2 823.5,480.2 825.5,478.7 830.2,479.9 831.5,478.0 833.1,476.8 835.0,474.6 837.3,475.8 839.3,476.5 842.3,474.6 841.8,473.3 841.7,470.5 844.6,468.9 847.1,468.5 849.7,468.7 851.8,468.6 854.3,468.7 856.7,469.1 858.7,470.9 859.7,471.8 861.8,473.8 863.5,476.4 865.2,478.7 867.1,480.0 869.3,481.4 872.4,483.4 874.3,484.6 877.2,484.8 879.0,486.1 881.8,486.5 884.2,487.2 886.5,485.7 888.8,484.4 891.7,485.1 894.7,485.7 897.8,485.7 899.6,484.7 901.8,485.4 904.2,484.9 907.2,483.5 908.9,481.1 912.0,480.4 914.0,480.0 917.0,479.7 919.7,477.6 922.0,476.7 924.9,476.1 927.3,475.8 930.2,475.7 933.2,475.2 936.6,475.2 939.0,475.6 941.1,476.2" fill="none" stroke="#fff" stroke-width="2.1" stroke-linejoin="round"/>
<polyline points="732.2,533.8 734.9,533.7 736.9,531.8 739.2,531.4 742.9,531.4 745.9,530.0 748.1,531.4 751.3,531.9 753.2,533.0 756.6,531.9 759.1,531.7 761.9,531.3 764.7,532.3 767.7,531.3 770.4,530.1 772.8,530.3 775.6,530.5 778.4,528.9 781.5,530.0 783.9,529.7 785.9,528.7 788.9,529.0 790.6,528.8 793.3,527.5 795.1,528.6 797.9,529.9 799.9,530.6 801.7,531.1 804.3,531.5 807.6,533.4 810.8,533.2 813.6,535.1 815.1,536.2 817.7,537.2 820.3,539.5 822.2,538.4 824.7,537.1 827.1,536.3 828.8,537.7 831.4,538.6 833.0,539.3 836.4,539.2 839.2,537.0 842.9,537.9 846.0,538.7 848.1,539.7 849.9,539.4 852.2,541.4 854.0,539.7 856.3,538.0 858.6,536.6 861.3,536.2 864.8,535.0 866.5,535.5 868.7,537.3 871.2,538.0 873.4,535.7 875.7,534.5 877.4,534.2 880.5,533.0 882.5,532.5 885.8,532.5 888.5,531.9 891.2,531.9 893.4,532.5 896.6,532.1 900.0,530.7 902.5,533.1 905.1,533.5 907.4,535.3 909.7,534.3 911.9,533.6 914.0,531.8 917.6,532.1 920.9,531.8 921.5,530.5 921.3,527.6 922.1,525.5 923.0,523.3 924.9,522.0 927.9,522.3 929.6,524.6 933.0,523.9 936.4,524.1 938.9,525.5 941.1,525.8" fill="none" stroke="#fff" stroke-width="2.1" stroke-linejoin="round"/>
<line x1="741.6" y1="638.4" x2="785.9" y2="638.4" stroke="#d4d4d4" stroke-width="1.3" stroke-linecap="butt"/>
<line x1="742.2" y1="633" x2="742.2" y2="638.4" stroke="#cfcfcf" stroke-width="1" stroke-linecap="butt"/>
<line x1="785.3" y1="633" x2="785.3" y2="638.4" stroke="#cfcfcf" stroke-width="1" stroke-linecap="butt"/>
<line x1="742.6" y1="642.6" x2="781.6" y2="642.6" stroke="#b4b4b4" stroke-width="1.6" stroke-dasharray="2.2 1.3 1.5 2.5"/>
<line x1="757.6" y1="634.4" x2="768.6" y2="634.4" stroke="#a8a8a8" stroke-width="1.4" stroke-dasharray="1.6 1"/>
</g>
<g clip-path="url(#clip12)">
<rect x="954.7" y="358.5" width="211.6" height="289.7" fill="#838383" filter="url(#tex)"/>
<rect x="954.7" y="358.5" width="211.6" height="289.7" fill="#828282" filter="url(#smooth)" clip-path="url(#w12)"/>
<polyline points="956.4,503.6 957.8,502.4 959.6,500.4 960.6,498.2 961.7,495.0 962.4,493.0 962.3,490.4 962.5,487.3 964.3,486.0 965.7,483.5 966.7,480.0 967.8,478.1 968.2,475.7 967.9,473.6 971.8,470.7 974.5,470.3 977.8,471.6 980.5,472.9 983.0,474.4 983.6,477.4 981.4,478.9 979.9,481.8 979.0,484.6 978.5,488.1 979.0,491.0 979.0,493.7 982.2,497.5 985.0,498.0 988.4,497.4 991.2,498.5 993.4,498.8 995.9,499.4 999.5,501.4 1001.4,500.7 1004.0,499.4 1006.8,497.4 1010.1,496.7 1013.4,497.1 1016.6,497.1 1019.7,496.4 1021.8,495.6 1024.7,494.3 1027.2,495.1 1030.0,494.9 1033.0,495.1 1036.0,496.7 1039.1,497.7 1042.2,497.1 1044.9,495.3 1048.6,496.8 1051.8,497.9 1054.3,498.6 1057.0,499.4 1059.5,500.8 1061.2,498.5 1063.0,495.6 1065.6,495.0 1069.1,495.3 1071.6,495.6 1074.3,495.8 1077.3,496.2 1080.2,494.8 1082.3,495.2 1084.9,494.8 1087.6,494.4 1090.3,494.5 1092.5,497.4 1094.4,500.1 1095.9,500.9 1097.9,502.5 1099.6,504.4 1102.2,505.5 1104.8,506.0 1107.7,506.1 1110.1,505.0 1112.0,504.2 1114.7,505.0 1117.5,503.9 1120.1,504.1 1122.6,503.7 1125.5,503.1 1127.9,502.1 1130.4,501.4 1132.8,500.7 1135.1,501.3 1137.3,501.1 1140.3,499.8 1143.2,500.2 1145.7,500.1 1147.4,499.2 1148.4,497.2 1151.0,496.1 1153.1,496.2 1155.5,495.0 1157.7,493.8 1159.6,492.6 1162.2,493.2 1165.3,492.4" fill="none" stroke="#fff" stroke-width="2.1" stroke-linejoin="round"/>
<polyline points="956.4,518.7 959.0,518.2 961.0,518.8 963.5,518.4 965.7,518.3 969.0,518.5 972.7,518.8 975.2,519.3 977.7,518.5 980.2,520.2 983.1,520.1 985.6,520.3 988.2,519.8 991.0,521.6 994.0,522.1 996.6,521.1 999.7,520.5 1000.9,519.7 1003.2,519.2 1005.5,518.3 1008.0,516.4 1009.8,513.2 1010.5,510.7 1011.8,508.6 1015.2,506.5 1018.0,508.2 1021.4,508.1 1024.9,508.8 1028.0,508.9 1030.3,510.4 1032.4,513.2 1034.5,514.9 1036.7,514.9 1038.7,516.6 1040.9,516.8 1043.6,518.3 1045.1,518.1 1048.2,519.4 1051.1,520.9 1053.7,521.8 1055.7,522.3 1058.8,523.6 1061.2,524.6 1063.3,523.7 1065.5,523.9 1067.8,521.8 1070.9,522.6 1073.7,522.9 1076.1,521.8 1077.8,520.4 1080.5,518.9 1082.1,516.3 1083.5,515.3 1085.0,513.0 1087.8,510.7 1089.6,509.8 1091.8,510.0 1094.4,509.9 1096.3,511.2 1098.8,512.4 1101.3,511.8 1104.5,512.6 1106.9,515.4 1108.8,516.3 1111.9,517.2 1114.6,517.4 1116.4,517.2 1119.1,518.0 1122.0,518.1 1124.8,517.5 1127.6,517.8 1129.5,516.6 1131.3,515.0 1133.8,513.5 1135.6,512.7 1138.3,511.1 1140.4,509.2 1142.6,508.9 1145.2,507.3 1147.2,506.5 1149.9,504.6 1152.2,505.6 1154.2,506.3 1156.8,508.2 1158.6,508.3 1160.5,508.6 1163.3,508.1 1165.3,509.1" fill="none" stroke="#fff" stroke-width="2.1" stroke-linejoin="round"/>
<line x1="964.7" y1="638.4" x2="1009" y2="638.4" stroke="#d4d4d4" stroke-width="1.3" stroke-linecap="butt"/>
<line x1="965.3" y1="633" x2="965.3" y2="638.4" stroke="#cfcfcf" stroke-width="1" stroke-linecap="butt"/>
<line x1="1008.4" y1="633" x2="1008.4" y2="638.4" stroke="#cfcfcf" stroke-width="1" stroke-linecap="butt"/>
<line x1="965.7" y1="642.6" x2="1004.7" y2="642.6" stroke="#b4b4b4" stroke-width="1.6" stroke-dasharray="2.2 1.3 1.5 2.5"/>
<line x1="980.7" y1="634.4" x2="991.7" y2="634.4" stroke="#a8a8a8" stroke-width="1.4" stroke-dasharray="1.6 1"/>
</g>
<g clip-path="url(#clip13)">
<rect x="1174.3" y="358.5" width="211.6" height="289.7" fill="#838383" filter="url(#tex)"/>
<line x1="1184.3" y1="638.4" x2="1228.6" y2="638.4" stroke="#d4d4d4" stroke-width="1.3" stroke-linecap="butt"/>
<line x1="1184.9" y1="633" x2="1184.9" y2="638.4" stroke="#cfcfcf" stroke-width="1" stroke-linecap="butt"/>
<line x1="1228" y1="633" x2="1228" y2="638.4" stroke="#cfcfcf" stroke-width="1" stroke-linecap="butt"/>
<line x1="1185.3" y1="642.6" x2="1224.3" y2="642.6" stroke="#b4b4b4" stroke-width="1.6" stroke-dasharray="2.2 1.3 1.5 2.5"/>
<line x1="1200.3" y1="634.4" x2="1211.3" y2="634.4" stroke="#a8a8a8" stroke-width="1.4" stroke-dasharray="1.6 1"/>
</g>
<line x1="941.6" y1="476" x2="941.6" y2="526" stroke="#e8e8e8" stroke-width="1.4" stroke-linecap="butt"/>
<circle cx="672.3" cy="116.4" r="3.2" fill="none" stroke="#5a5a5a" stroke-width="1.2"/><circle cx="672.3" cy="116.4" r="1.3" fill="#dcdcdc"/>
<text transform="translate(499.9,291.76) rotate(-90)" x="0" y="0" font-size="50.48" font-weight="normal" fill="#1a1a1a" textLength="158.41" lengthAdjust="spacingAndGlyphs">Control</text>
<text transform="translate(499.4,545.02) rotate(-90)" x="0" y="0" font-size="47.71" font-weight="normal" fill="#1a1a1a" textLength="99.56" lengthAdjust="spacingAndGlyphs">MPA</text>
<text x="446.16" y="675.4" font-size="27.6" font-weight="normal" fill="#1a1a1a" textLength="122.74" lengthAdjust="spacingAndGlyphs">Time (hr):</text>
<text x="617.3" y="675.02" font-size="28.41" font-weight="bold" fill="#1a1a1a" textLength="15.34" lengthAdjust="spacingAndGlyphs">0</text>
<text x="827.06" y="675.32" font-size="27.7" font-weight="bold" fill="#1a1a1a" textLength="32.68" lengthAdjust="spacingAndGlyphs">12</text><rect x="828.39" y="671.58" width="5.41" height="4.85" fill="#fff"/><rect x="838.08" y="671.58" width="4.85" height="4.85" fill="#fff"/>
<text x="1053.74" y="675.11" font-size="28.55" font-weight="bold" fill="#1a1a1a" textLength="30.36" lengthAdjust="spacingAndGlyphs">24</text>
<text x="1267.99" y="675.52" font-size="27.99" font-weight="bold" fill="#1a1a1a" textLength="30.6" lengthAdjust="spacingAndGlyphs">48</text>
<text x="6.49" y="763.69" font-size="50.74" font-weight="bold" fill="#232323" textLength="34.4" lengthAdjust="spacingAndGlyphs">C</text>
<line x1="102" y1="811.5" x2="102" y2="1157.6" stroke="#000" stroke-width="3.2" stroke-linecap="butt"/>
<line x1="100.4" y1="1156" x2="617.6" y2="1156" stroke="#000" stroke-width="3.2" stroke-linecap="butt"/>
<line x1="91.2" y1="1156" x2="102" y2="1156" stroke="#000" stroke-width="3.2" stroke-linecap="butt"/>
<text x="73.81" y="1165.14" font-size="26" font-weight="bold" fill="#000" textLength="14.46" lengthAdjust="spacingAndGlyphs">0</text>
<line x1="91.2" y1="1087.42" x2="102" y2="1087.42" stroke="#000" stroke-width="3.2" stroke-linecap="butt"/>
<text x="59.38" y="1096.56" font-size="26" font-weight="bold" fill="#000" textLength="28.92" lengthAdjust="spacingAndGlyphs">20</text>
<line x1="91.2" y1="1018.84" x2="102" y2="1018.84" stroke="#000" stroke-width="3.2" stroke-linecap="butt"/>
<text x="59.38" y="1027.98" font-size="26" font-weight="bold" fill="#000" textLength="28.92" lengthAdjust="spacingAndGlyphs">40</text>
<line x1="91.2" y1="950.26" x2="102" y2="950.26" stroke="#000" stroke-width="3.2" stroke-linecap="butt"/>
<text x="59.38" y="959.4" font-size="26" font-weight="bold" fill="#000" textLength="28.92" lengthAdjust="spacingAndGlyphs">60</text>
<line x1="91.2" y1="881.68" x2="102" y2="881.68" stroke="#000" stroke-width="3.2" stroke-linecap="butt"/>
<text x="59.38" y="890.82" font-size="26" font-weight="bold" fill="#000" textLength="28.92" lengthAdjust="spacingAndGlyphs">80</text>
<line x1="91.2" y1="813.1" x2="102" y2="813.1" stroke="#000" stroke-width="3.2" stroke-linecap="butt"/>
<text x="44.89" y="822.24" font-size="26" font-weight="bold" fill="#000" textLength="43.38" lengthAdjust="spacingAndGlyphs">100</text><rect x="46.06" y="818.73" width="4.78" height="4.55" fill="#fff"/><rect x="54.64" y="818.73" width="4.29" height="4.55" fill="#fff"/>
<line x1="102" y1="1156" x2="102" y2="1166" stroke="#000" stroke-width="3.2" stroke-linecap="butt"/>
<text x="94.84" y="1194.1" font-size="25.8" font-weight="bold" fill="#000" textLength="14.35" lengthAdjust="spacingAndGlyphs">0</text>
<line x1="166.23" y1="1156" x2="166.23" y2="1166" stroke="#000" stroke-width="3.2" stroke-linecap="butt"/>
<text x="159.23" y="1194.1" font-size="25.8" font-weight="bold" fill="#000" textLength="14.35" lengthAdjust="spacingAndGlyphs">3</text>
<line x1="230.46" y1="1156" x2="230.46" y2="1166" stroke="#000" stroke-width="3.2" stroke-linecap="butt"/>
<text x="223.27" y="1194.1" font-size="25.8" font-weight="bold" fill="#000" textLength="14.35" lengthAdjust="spacingAndGlyphs">6</text>
<line x1="358.92" y1="1156" x2="358.92" y2="1166" stroke="#000" stroke-width="3.2" stroke-linecap="butt"/>
<text x="344.31" y="1194.1" font-size="25.8" font-weight="bold" fill="#000" textLength="28.7" lengthAdjust="spacingAndGlyphs">12</text><rect x="345.47" y="1190.62" width="4.75" height="4.52" fill="#fff"/><rect x="353.99" y="1190.62" width="4.26" height="4.52" fill="#fff"/>
<line x1="615.84" y1="1156" x2="615.84" y2="1166" stroke="#000" stroke-width="3.2" stroke-linecap="butt"/>
<text x="601.13" y="1194.1" font-size="25.8" font-weight="bold" fill="#000" textLength="28.7" lengthAdjust="spacingAndGlyphs">24</text>
<text x="298.71" y="1236.8" font-size="27.3" font-weight="bold" fill="#000" textLength="122.02" lengthAdjust="spacingAndGlyphs">Time (hr)</text>
<text style="white-space:pre" transform="translate(27.17,1173.91) rotate(-90)" x="0" y="0" font-size="28.1" font-weight="bold" fill="#000" textLength="382.17" lengthAdjust="spacingAndGlyphs">Relative Wound  Density (%)</text>
<polyline points="102.0,1156.0 134.1,1081.0 166.2,1031.7 273.3,960.1 316.1,925.9 358.9,900.7 401.7,877.9 444.6,863.9 487.4,854.6 530.2,855.3 573.0,853.6 615.8,841.2" fill="none" stroke="#000" stroke-width="1.7"/>
<line x1="134.12" y1="1073.5" x2="134.12" y2="1088.5" stroke="#000" stroke-width="1.6" stroke-linecap="butt"/><line x1="129.31" y1="1073.5" x2="138.92" y2="1073.5" stroke="#000" stroke-width="1.6" stroke-linecap="butt"/><line x1="129.31" y1="1088.5" x2="138.92" y2="1088.5" stroke="#000" stroke-width="1.6" stroke-linecap="butt"/>
<line x1="166.23" y1="1012.2" x2="166.23" y2="1045" stroke="#000" stroke-width="1.6" stroke-linecap="butt"/><line x1="161.43" y1="1012.2" x2="171.03" y2="1012.2" stroke="#000" stroke-width="1.6" stroke-linecap="butt"/><line x1="161.43" y1="1045" x2="171.03" y2="1045" stroke="#000" stroke-width="1.6" stroke-linecap="butt"/>
<line x1="273.28" y1="944.2" x2="273.28" y2="975" stroke="#000" stroke-width="1.6" stroke-linecap="butt"/><line x1="268.48" y1="944.2" x2="278.08" y2="944.2" stroke="#000" stroke-width="1.6" stroke-linecap="butt"/><line x1="268.48" y1="975" x2="278.08" y2="975" stroke="#000" stroke-width="1.6" stroke-linecap="butt"/>
<line x1="316.1" y1="908.9" x2="316.1" y2="938.9" stroke="#000" stroke-width="1.6" stroke-linecap="butt"/><line x1="311.3" y1="908.9" x2="320.9" y2="908.9" stroke="#000" stroke-width="1.6" stroke-linecap="butt"/><line x1="311.3" y1="938.9" x2="320.9" y2="938.9" stroke="#000" stroke-width="1.6" stroke-linecap="butt"/>
<line x1="358.92" y1="886.3" x2="358.92" y2="916" stroke="#000" stroke-width="1.6" stroke-linecap="butt"/><line x1="354.12" y1="886.3" x2="363.72" y2="886.3" stroke="#000" stroke-width="1.6" stroke-linecap="butt"/><line x1="354.12" y1="916" x2="363.72" y2="916" stroke="#000" stroke-width="1.6" stroke-linecap="butt"/>
<line x1="401.74" y1="866.4" x2="401.74" y2="889" stroke="#000" stroke-width="1.6" stroke-linecap="butt"/><line x1="396.94" y1="866.4" x2="406.54" y2="866.4" stroke="#000" stroke-width="1.6" stroke-linecap="butt"/><line x1="396.94" y1="889" x2="406.54" y2="889" stroke="#000" stroke-width="1.6" stroke-linecap="butt"/>
<line x1="444.56" y1="854.4" x2="444.56" y2="873" stroke="#000" stroke-width="1.6" stroke-linecap="butt"/><line x1="439.76" y1="854.4" x2="449.36" y2="854.4" stroke="#000" stroke-width="1.6" stroke-linecap="butt"/><line x1="439.76" y1="873" x2="449.36" y2="873" stroke="#000" stroke-width="1.6" stroke-linecap="butt"/>
<line x1="487.38" y1="845.8" x2="487.38" y2="864.2" stroke="#000" stroke-width="1.6" stroke-linecap="butt"/><line x1="482.58" y1="845.8" x2="492.18" y2="845.8" stroke="#000" stroke-width="1.6" stroke-linecap="butt"/><line x1="482.58" y1="864.2" x2="492.18" y2="864.2" stroke="#000" stroke-width="1.6" stroke-linecap="butt"/>
<line x1="530.2" y1="849.7" x2="530.2" y2="860.7" stroke="#000" stroke-width="1.6" stroke-linecap="butt"/><line x1="525.4" y1="849.7" x2="535" y2="849.7" stroke="#000" stroke-width="1.6" stroke-linecap="butt"/><line x1="525.4" y1="860.7" x2="535" y2="860.7" stroke="#000" stroke-width="1.6" stroke-linecap="butt"/>
<line x1="573.02" y1="845" x2="573.02" y2="862" stroke="#000" stroke-width="1.6" stroke-linecap="butt"/><line x1="568.22" y1="845" x2="577.82" y2="845" stroke="#000" stroke-width="1.6" stroke-linecap="butt"/><line x1="568.22" y1="862" x2="577.82" y2="862" stroke="#000" stroke-width="1.6" stroke-linecap="butt"/>
<line x1="615.84" y1="833" x2="615.84" y2="849.7" stroke="#000" stroke-width="1.6" stroke-linecap="butt"/><line x1="611.04" y1="833" x2="620.64" y2="833" stroke="#000" stroke-width="1.6" stroke-linecap="butt"/><line x1="611.04" y1="849.7" x2="620.64" y2="849.7" stroke="#000" stroke-width="1.6" stroke-linecap="butt"/>
<polyline points="102.0,1156.0 134.1,1083.5 166.2,1040.8 273.3,972.8 316.1,955.5 358.9,931.1 401.7,911.8 444.6,896.1 487.4,891.3 530.2,892.0 573.0,883.3 615.8,872.5" fill="none" stroke="#000" stroke-width="1.7"/>
<line x1="134.12" y1="1076.5" x2="134.12" y2="1092.5" stroke="#000" stroke-width="1.6" stroke-linecap="butt"/><line x1="129.31" y1="1076.5" x2="138.92" y2="1076.5" stroke="#000" stroke-width="1.6" stroke-linecap="butt"/><line x1="129.31" y1="1092.5" x2="138.92" y2="1092.5" stroke="#000" stroke-width="1.6" stroke-linecap="butt"/>
<line x1="166.23" y1="1030" x2="166.23" y2="1051.5" stroke="#000" stroke-width="1.6" stroke-linecap="butt"/><line x1="161.43" y1="1030" x2="171.03" y2="1030" stroke="#000" stroke-width="1.6" stroke-linecap="butt"/><line x1="161.43" y1="1051.5" x2="171.03" y2="1051.5" stroke="#000" stroke-width="1.6" stroke-linecap="butt"/>
<line x1="273.28" y1="957" x2="273.28" y2="989.4" stroke="#000" stroke-width="1.6" stroke-linecap="butt"/><line x1="268.48" y1="957" x2="278.08" y2="957" stroke="#000" stroke-width="1.6" stroke-linecap="butt"/><line x1="268.48" y1="989.4" x2="278.08" y2="989.4" stroke="#000" stroke-width="1.6" stroke-linecap="butt"/>
<line x1="316.1" y1="941.7" x2="316.1" y2="972.1" stroke="#000" stroke-width="1.6" stroke-linecap="butt"/><line x1="311.3" y1="941.7" x2="320.9" y2="941.7" stroke="#000" stroke-width="1.6" stroke-linecap="butt"/><line x1="311.3" y1="972.1" x2="320.9" y2="972.1" stroke="#000" stroke-width="1.6" stroke-linecap="butt"/>
<line x1="358.92" y1="916" x2="358.92" y2="945.6" stroke="#000" stroke-width="1.6" stroke-linecap="butt"/><line x1="354.12" y1="916" x2="363.72" y2="916" stroke="#000" stroke-width="1.6" stroke-linecap="butt"/><line x1="354.12" y1="945.6" x2="363.72" y2="945.6" stroke="#000" stroke-width="1.6" stroke-linecap="butt"/>
<line x1="401.74" y1="898.3" x2="401.74" y2="925.2" stroke="#000" stroke-width="1.6" stroke-linecap="butt"/><line x1="396.94" y1="898.3" x2="406.54" y2="898.3" stroke="#000" stroke-width="1.6" stroke-linecap="butt"/><line x1="396.94" y1="925.2" x2="406.54" y2="925.2" stroke="#000" stroke-width="1.6" stroke-linecap="butt"/>
<line x1="444.56" y1="882" x2="444.56" y2="909.7" stroke="#000" stroke-width="1.6" stroke-linecap="butt"/><line x1="439.76" y1="882" x2="449.36" y2="882" stroke="#000" stroke-width="1.6" stroke-linecap="butt"/><line x1="439.76" y1="909.7" x2="449.36" y2="909.7" stroke="#000" stroke-width="1.6" stroke-linecap="butt"/>
<line x1="487.38" y1="879" x2="487.38" y2="903.3" stroke="#000" stroke-width="1.6" stroke-linecap="butt"/><line x1="482.58" y1="879" x2="492.18" y2="879" stroke="#000" stroke-width="1.6" stroke-linecap="butt"/><line x1="482.58" y1="903.3" x2="492.18" y2="903.3" stroke="#000" stroke-width="1.6" stroke-linecap="butt"/>
<line x1="530.2" y1="877.6" x2="530.2" y2="906.4" stroke="#000" stroke-width="1.6" stroke-linecap="butt"/><line x1="525.4" y1="877.6" x2="535" y2="877.6" stroke="#000" stroke-width="1.6" stroke-linecap="butt"/><line x1="525.4" y1="906.4" x2="535" y2="906.4" stroke="#000" stroke-width="1.6" stroke-linecap="butt"/>
<line x1="573.02" y1="868.7" x2="573.02" y2="898.4" stroke="#000" stroke-width="1.6" stroke-linecap="butt"/><line x1="568.22" y1="868.7" x2="577.82" y2="868.7" stroke="#000" stroke-width="1.6" stroke-linecap="butt"/><line x1="568.22" y1="898.4" x2="577.82" y2="898.4" stroke="#000" stroke-width="1.6" stroke-linecap="butt"/>
<line x1="615.84" y1="857" x2="615.84" y2="888.8" stroke="#000" stroke-width="1.6" stroke-linecap="butt"/><line x1="611.04" y1="857" x2="620.64" y2="857" stroke="#000" stroke-width="1.6" stroke-linecap="butt"/><line x1="611.04" y1="888.8" x2="620.64" y2="888.8" stroke="#000" stroke-width="1.6" stroke-linecap="butt"/>
<circle cx="102" cy="1156" r="5.1" fill="#000"/>
<circle cx="134.12" cy="1081" r="5.1" fill="#000"/>
<circle cx="166.23" cy="1031.7" r="5.1" fill="#000"/>
<circle cx="273.28" cy="960.1" r="5.1" fill="#000"/>
<circle cx="316.1" cy="925.9" r="5.1" fill="#000"/>
<circle cx="358.92" cy="900.7" r="5.1" fill="#000"/>
<circle cx="401.74" cy="877.9" r="5.1" fill="#000"/>
<circle cx="444.56" cy="863.9" r="5.1" fill="#000"/>
<circle cx="487.38" cy="854.6" r="5.1" fill="#000"/>
<circle cx="530.2" cy="855.3" r="5.1" fill="#000"/>
<circle cx="573.02" cy="853.6" r="5.1" fill="#000"/>
<circle cx="615.84" cy="841.2" r="5.1" fill="#000"/>
<rect x="97.1" y="1151.1" width="9.8" height="9.8" fill="#000"/>
<rect x="129.2" y="1078.6" width="9.8" height="9.8" fill="#000"/>
<rect x="161.3" y="1035.9" width="9.8" height="9.8" fill="#000"/>
<rect x="268.4" y="967.9" width="9.8" height="9.8" fill="#000"/>
<rect x="311.2" y="950.6" width="9.8" height="9.8" fill="#000"/>
<rect x="354.0" y="926.2" width="9.8" height="9.8" fill="#000"/>
<rect x="396.8" y="906.9" width="9.8" height="9.8" fill="#000"/>
<rect x="439.7" y="891.2" width="9.8" height="9.8" fill="#000"/>
<rect x="482.5" y="886.4" width="9.8" height="9.8" fill="#000"/>
<rect x="525.3" y="887.1" width="9.8" height="9.8" fill="#000"/>
<rect x="568.1" y="878.4" width="9.8" height="9.8" fill="#000"/>
<rect x="610.9" y="867.6" width="9.8" height="9.8" fill="#000"/>
<text x="486.7" y="1030.1" font-size="28" font-weight="normal" fill="#1a1a1a" textLength="128.95" lengthAdjust="spacingAndGlyphs">MPA(nM):</text>
<line x1="492.9" y1="1067.4" x2="528.7" y2="1067.4" stroke="#000" stroke-width="1.7" stroke-linecap="butt"/>
<circle cx="510.7" cy="1067.4" r="4.8" fill="#000"/>
<line x1="492.9" y1="1113.8" x2="528.7" y2="1113.8" stroke="#000" stroke-width="1.7" stroke-linecap="butt"/>
<rect x="506.1" y="1108.8" width="10" height="10.2" fill="#000"/>
<text x="549.15" y="1076.94" font-size="26.15" font-weight="normal" fill="#1a1a1a" textLength="15.96" lengthAdjust="spacingAndGlyphs">0</text>
<text x="549.92" y="1123.72" font-size="27.99" font-weight="normal" fill="#1a1a1a" textLength="46.35" lengthAdjust="spacingAndGlyphs">100</text><rect x="551.58" y="1120.92" width="5.22" height="3.92" fill="#fff"/><rect x="559.45" y="1120.92" width="4.92" height="3.92" fill="#fff"/>
<text x="761.72" y="766.2" font-size="51.2" font-weight="bold" fill="#232323" textLength="35.14" lengthAdjust="spacingAndGlyphs">D</text>
<line x1="866.3" y1="795.6" x2="866.3" y2="1164.6" stroke="#000" stroke-width="3.2" stroke-linecap="butt"/>
<line x1="864.7" y1="1160.8" x2="1412.7" y2="1160.8" stroke="#000" stroke-width="3.4" stroke-linecap="butt"/>
<line x1="849.5" y1="1160.8" x2="866.3" y2="1160.8" stroke="#000" stroke-width="3.2" stroke-linecap="butt"/>
<line x1="849.5" y1="979.9" x2="866.3" y2="979.9" stroke="#000" stroke-width="3.2" stroke-linecap="butt"/>
<line x1="849.5" y1="799" x2="866.3" y2="799" stroke="#000" stroke-width="3.2" stroke-linecap="butt"/>
<text x="801.39" y="809.92" font-size="27.84" font-weight="bold" fill="#000" textLength="45.52" lengthAdjust="spacingAndGlyphs">100</text><rect x="802.62" y="806.16" width="5.02" height="4.87" fill="#fff"/><rect x="811.63" y="806.16" width="4.5" height="4.87" fill="#fff"/>
<text x="817.1" y="990.82" font-size="27.84" font-weight="bold" fill="#000" textLength="29.84" lengthAdjust="spacingAndGlyphs">50</text>
<text x="832.79" y="1170.72" font-size="27.84" font-weight="bold" fill="#000" textLength="14.05" lengthAdjust="spacingAndGlyphs">0</text>
<line x1="857.5" y1="1070.35" x2="866.3" y2="1070.35" stroke="#000" stroke-width="3.2" stroke-linecap="butt"/>
<line x1="857.5" y1="889.45" x2="866.3" y2="889.45" stroke="#000" stroke-width="3.2" stroke-linecap="butt"/>
<line x1="949.3" y1="1160.8" x2="949.3" y2="1177" stroke="#000" stroke-width="3.2" stroke-linecap="butt"/>
<line x1="1074.9" y1="1160.8" x2="1074.9" y2="1177" stroke="#000" stroke-width="3.2" stroke-linecap="butt"/>
<line x1="1197.7" y1="1160.8" x2="1197.7" y2="1177" stroke="#000" stroke-width="3.2" stroke-linecap="butt"/>
<line x1="1323.1" y1="1160.8" x2="1323.1" y2="1177" stroke="#000" stroke-width="3.2" stroke-linecap="butt"/>
<text x="899.59" y="1205.3" font-size="27.6" font-weight="bold" fill="#000" textLength="98.75" lengthAdjust="spacingAndGlyphs">Control</text>
<text x="1042.79" y="1205.3" font-size="27.6" font-weight="bold" fill="#000" textLength="60.8" lengthAdjust="spacingAndGlyphs">MPA</text>
<text x="1171.44" y="1205.3" font-size="27.6" font-weight="bold" fill="#000" textLength="55.03" lengthAdjust="spacingAndGlyphs">NET</text>
<text x="1294.83" y="1205.3" font-size="27.6" font-weight="bold" fill="#000" textLength="58.53" lengthAdjust="spacingAndGlyphs">LNG</text>
<text x="995.41" y="763.75" font-size="37.32" font-weight="bold" fill="#000" textLength="13.34" lengthAdjust="spacingAndGlyphs">*</text>
<text x="1013.51" y="763.75" font-size="37.32" font-weight="bold" fill="#000" textLength="13.55" lengthAdjust="spacingAndGlyphs">*</text>
<line x1="948.2" y1="773.6" x2="1076" y2="773.6" stroke="#000" stroke-width="5.7" stroke-linecap="round"/>
<text transform="translate(783.41,1118.78) rotate(-90)" x="0" y="0" font-size="29.81" font-weight="bold" fill="#000" textLength="277.41" lengthAdjust="spacingAndGlyphs">Wound Closure (%)</text>
<g clip-path="url(#clipD)">
<circle cx="934.8" cy="799.9" r="7.5" fill="#000"/>
<circle cx="943.8" cy="809" r="7.5" fill="#000"/>
<circle cx="954.4" cy="814.4" r="7.5" fill="#000"/>
<circle cx="944.1" cy="824.7" r="7.5" fill="#000"/>
<circle cx="934.3" cy="838" r="7.5" fill="#000"/>
<circle cx="954.4" cy="838.7" r="7.5" fill="#000"/>
<circle cx="963.4" cy="839.3" r="7.5" fill="#000"/>
<circle cx="974" cy="835.9" r="7.5" fill="#000"/>
<circle cx="944.1" cy="840.4" r="7.5" fill="#000"/>
<circle cx="914.9" cy="861.1" r="7.5" fill="#000"/>
<circle cx="924.2" cy="860" r="7.5" fill="#000"/>
<circle cx="972.9" cy="860.6" r="7.5" fill="#000"/>
<circle cx="934.3" cy="872.4" r="7.5" fill="#000"/>
<circle cx="943.8" cy="868.4" r="7.5" fill="#000"/>
<circle cx="952.7" cy="866.2" r="7.5" fill="#000"/>
<circle cx="964" cy="868.4" r="7.5" fill="#000"/>
<circle cx="983.6" cy="872.4" r="7.5" fill="#000"/>
<circle cx="914.9" cy="878" r="7.5" fill="#000"/>
<circle cx="954.4" cy="880.8" r="7.5" fill="#000"/>
<circle cx="943.8" cy="886.4" r="7.5" fill="#000"/>
<circle cx="954.4" cy="898.1" r="7.5" fill="#000"/>
<circle cx="944.1" cy="908.5" r="7.5" fill="#000"/>
<circle cx="1074.5" cy="845.1" r="7.5" fill="#000"/>
<circle cx="1091.2" cy="843.2" r="7.5" fill="#000"/>
<circle cx="1066.9" cy="868.3" r="7.5" fill="#000"/>
<circle cx="1084.3" cy="866.4" r="7.5" fill="#000"/>
<circle cx="1066.9" cy="884.5" r="7.5" fill="#000"/>
<circle cx="1084.3" cy="882.7" r="7.5" fill="#000"/>
<circle cx="1039.7" cy="911.7" r="7.5" fill="#000"/>
<circle cx="1056.4" cy="903.6" r="7.5" fill="#000"/>
<circle cx="1074.5" cy="904.7" r="7.5" fill="#000"/>
<circle cx="1091.2" cy="898.9" r="7.5" fill="#000"/>
<circle cx="1108.7" cy="901.7" r="7.5" fill="#000"/>
<circle cx="1091.2" cy="915.6" r="7.5" fill="#000"/>
<circle cx="1056.4" cy="926.3" r="7.5" fill="#000"/>
<circle cx="1074.5" cy="923.3" r="7.5" fill="#000"/>
<circle cx="1056.4" cy="944.2" r="7.5" fill="#000"/>
<circle cx="1091.2" cy="948.8" r="7.5" fill="#000"/>
<circle cx="1074.5" cy="958.8" r="7.5" fill="#000"/>
<circle cx="1074.5" cy="997.6" r="7.5" fill="#000"/>
<circle cx="1065.2" cy="1016.8" r="7.5" fill="#000"/>
<circle cx="1083.1" cy="1015.5" r="7.5" fill="#000"/>
<circle cx="1074.5" cy="1047.5" r="7.5" fill="#000"/>
<circle cx="1074.5" cy="1089.3" r="7.5" fill="#000"/>
<circle cx="1165" cy="832" r="7.5" fill="#000"/>
<circle cx="1182" cy="838.7" r="7.5" fill="#000"/>
<circle cx="1199.2" cy="845.1" r="7.5" fill="#000"/>
<circle cx="1216.6" cy="824.1" r="7.5" fill="#000"/>
<circle cx="1233.7" cy="821.8" r="7.5" fill="#000"/>
<circle cx="1233.7" cy="841.2" r="7.5" fill="#000"/>
<circle cx="1199.2" cy="860.2" r="7.5" fill="#000"/>
<circle cx="1233.7" cy="859.2" r="7.5" fill="#000"/>
<circle cx="1165" cy="872.4" r="7.5" fill="#000"/>
<circle cx="1182" cy="868.5" r="7.5" fill="#000"/>
<circle cx="1216.6" cy="872.4" r="7.5" fill="#000"/>
<circle cx="1199.2" cy="878.1" r="7.5" fill="#000"/>
<circle cx="1199.2" cy="893.5" r="7.5" fill="#000"/>
<circle cx="1216.6" cy="892.9" r="7.5" fill="#000"/>
<circle cx="1165" cy="906.3" r="7.5" fill="#000"/>
<circle cx="1182" cy="902.5" r="7.5" fill="#000"/>
<circle cx="1233.7" cy="908.6" r="7.5" fill="#000"/>
<circle cx="1182" cy="917.6" r="7.5" fill="#000"/>
<circle cx="1199.2" cy="911.4" r="7.5" fill="#000"/>
<circle cx="1216.6" cy="923" r="7.5" fill="#000"/>
<circle cx="1190.2" cy="944.7" r="7.5" fill="#000"/>
<circle cx="1207.6" cy="947" r="7.5" fill="#000"/>
<circle cx="1323.9" cy="814.4" r="7.5" fill="#000"/>
<circle cx="1289.7" cy="830.9" r="7.5" fill="#000"/>
<circle cx="1303.3" cy="839.2" r="7.5" fill="#000"/>
<circle cx="1317" cy="834.7" r="7.5" fill="#000"/>
<circle cx="1330.7" cy="840.8" r="7.5" fill="#000"/>
<circle cx="1344.4" cy="836.5" r="7.5" fill="#000"/>
<circle cx="1358.6" cy="836.2" r="7.5" fill="#000"/>
<circle cx="1303.3" cy="862.4" r="7.5" fill="#000"/>
<circle cx="1317" cy="861.6" r="7.5" fill="#000"/>
<circle cx="1330.7" cy="857.8" r="7.5" fill="#000"/>
<circle cx="1330.7" cy="873" r="7.5" fill="#000"/>
<circle cx="1344.4" cy="875.7" r="7.5" fill="#000"/>
<circle cx="1289.7" cy="882.9" r="7.5" fill="#000"/>
<circle cx="1303.3" cy="879.1" r="7.5" fill="#000"/>
<circle cx="1317" cy="886.7" r="7.5" fill="#000"/>
<circle cx="1330.7" cy="890.5" r="7.5" fill="#000"/>
<circle cx="1344.4" cy="890.5" r="7.5" fill="#000"/>
<circle cx="1303.3" cy="894.3" r="7.5" fill="#000"/>
<circle cx="1330.7" cy="904.9" r="7.5" fill="#000"/>
<circle cx="1317" cy="908.3" r="7.5" fill="#000"/>
<circle cx="1330.7" cy="962.7" r="7.5" fill="#000"/>
<circle cx="1317" cy="971.6" r="7.5" fill="#000"/>
</g>
<line x1="906.85" y1="854.8" x2="991.85" y2="854.8" stroke="#000" stroke-width="3.5" stroke-linecap="round"/><line x1="929" y1="850" x2="969.7" y2="850" stroke="#000" stroke-width="3" stroke-linecap="round"/><line x1="929" y1="859.5" x2="969.7" y2="859.5" stroke="#000" stroke-width="3" stroke-linecap="round"/><line x1="949.3" y1="850" x2="949.3" y2="859.5" stroke="#000" stroke-width="3" stroke-linecap="butt"/>
<line x1="1032.65" y1="930.3" x2="1114.55" y2="930.3" stroke="#000" stroke-width="3.5" stroke-linecap="round"/><line x1="1054.5" y1="916.3" x2="1094.5" y2="916.3" stroke="#000" stroke-width="3" stroke-linecap="round"/><line x1="1054.5" y1="946.5" x2="1094.5" y2="946.5" stroke="#000" stroke-width="3" stroke-linecap="round"/><line x1="1074.5" y1="916.3" x2="1074.5" y2="946.5" stroke="#000" stroke-width="3" stroke-linecap="butt"/>
<line x1="1157.75" y1="880" x2="1240.05" y2="880" stroke="#000" stroke-width="3.5" stroke-linecap="round"/><line x1="1177.7" y1="871.1" x2="1219" y2="871.1" stroke="#000" stroke-width="3" stroke-linecap="round"/><line x1="1177.7" y1="887.7" x2="1219" y2="887.7" stroke="#000" stroke-width="3" stroke-linecap="round"/><line x1="1198.4" y1="871.1" x2="1198.4" y2="887.7" stroke="#000" stroke-width="3" stroke-linecap="butt"/>
<line x1="1283.05" y1="875" x2="1366.25" y2="875" stroke="#000" stroke-width="3.5" stroke-linecap="round"/><line x1="1304.5" y1="864.6" x2="1344.5" y2="864.6" stroke="#000" stroke-width="3" stroke-linecap="round"/><line x1="1304.5" y1="882.9" x2="1344.5" y2="882.9" stroke="#000" stroke-width="3" stroke-linecap="round"/><line x1="1324.5" y1="864.6" x2="1324.5" y2="882.9" stroke="#000" stroke-width="3" stroke-linecap="butt"/>
</svg>
</body></html>
